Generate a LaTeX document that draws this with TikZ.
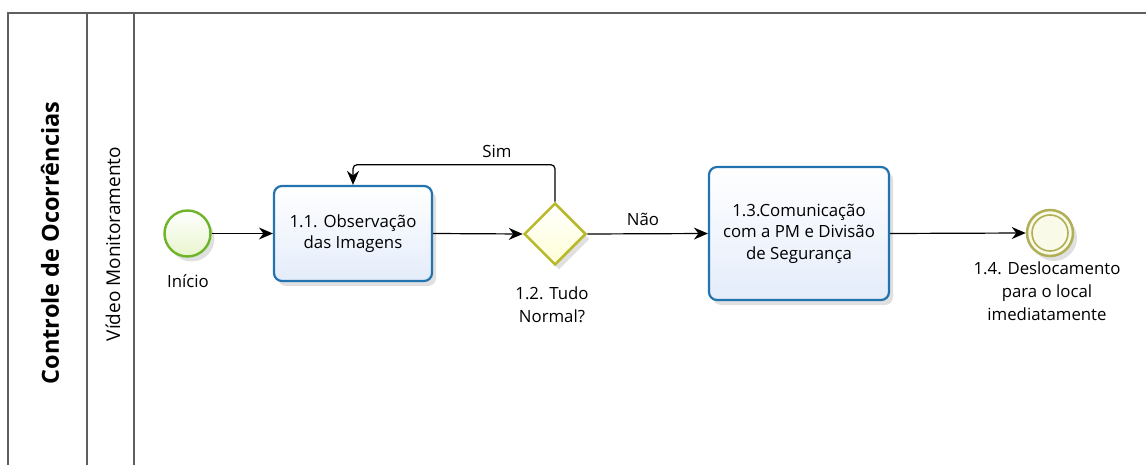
\documentclass[tikz,border=0pt]{standalone}
\usepackage{fontspec}
\setmainfont{Open Sans}
\usetikzlibrary{shapes.geometric,arrows.meta,shadows}
\definecolor{poolline}{RGB}{95,95,95}
\definecolor{startline}{RGB}{110,180,40}
\definecolor{startfill}{RGB}{232,245,205}
\definecolor{taskline}{RGB}{35,115,175}
\definecolor{taskfill}{RGB}{228,236,250}
\definecolor{gateline}{RGB}{185,185,45}
\definecolor{gatefill}{RGB}{255,255,215}
\definecolor{endline}{RGB}{175,175,85}
\definecolor{endfill}{RGB}{250,250,232}
\tikzset{
  poolrule/.style={draw=poolline,line width=1.5pt},
  softshadow/.style={drop shadow={shadow xshift=4pt,shadow yshift=-5pt,opacity=0.12,fill=black}},
  startev/.style={circle,draw=startline,line width=2.4pt,minimum size=46pt,inner sep=0pt,
    top color=white,bottom color=startfill,softshadow},
  taskbox/.style={rectangle,rounded corners=8pt,draw=taskline,line width=2.2pt,
    minimum width=158pt,minimum height=95pt,inner sep=2pt,align=center,
    top color=white,bottom color=taskfill,softshadow,
    font=\fontsize{16.8}{21.5}\selectfont},
  gatebox/.style={diamond,draw=gateline,line width=2.5pt,minimum width=62pt,minimum height=62pt,
    inner sep=0pt,top color=white,bottom color=gatefill,softshadow},
  endev/.style={circle,draw=endline,line width=2.5pt,minimum size=46pt,inner sep=0pt,
    fill=endfill,softshadow},
  endinner/.style={circle,draw=endline,line width=1.6pt,minimum size=36pt,inner sep=0pt},
  lbl/.style={align=center,font=\fontsize{16.8}{23}\selectfont},
  flow/.style={draw=black,line width=1.2pt,-{Stealth[length=14pt,width=12pt]}},
}
\begin{document}
\begin{tikzpicture}[x=1pt,y=-1pt]
\useasboundingbox (0,0) rectangle (1146,465);
% pool and lane
\draw[poolrule] (8,465) -- (8,13) -- (1146,13);
\draw[poolrule] (87,13) -- (87,465);
\draw[poolrule] (134,13) -- (134,465);
\node[rotate=90,font=\fontsize{23.5}{26}\selectfont\bfseries] (pool) at (50,243) {Controle de Ocorrências};
\node[rotate=90,font=\fontsize{19}{22}\selectfont] (lane) at (113,244) {Vídeo Monitoramento};
% elements
\node[startev] (start) at (187.5,233.5) {};
\node[lbl,anchor=north] (startlbl) at (188,271) {Início};
\node[taskbox] (t1) at (353,233.5) {1.1. Observação\\das Imagens};
\node[gatebox] (g) at (555,234) {};
\node[lbl,anchor=north] (glbl) at (552,283) {1.2. Tudo\\Normal?};
\node[taskbox,minimum width=180pt,minimum height=133pt] (t3) at (799,233.5) {1.3.Comunicação\\com a PM e Divisão\\de Segurança};
\node[endev] (e) at (1050,233) {};
\node[endinner] (ei) at (1050,233) {};
\node[lbl,anchor=north] (elbl) at (1047,258) {1.4. Deslocamento\\para o local\\imediatamente};
% flows
\draw[flow] (start.east) -- (t1.west);
\draw[flow] (t1.east) -- (g.west);
\draw[flow,rounded corners=4pt] (g.north) -- ++(0,-37) -| (t1.north);
\node[lbl] (sim) at (497,151) {Sim};
\draw[flow] (g.east) -- (t3.west);
\node[lbl] (nao) at (643,219) {Não};
\draw[flow] (t3.east) -- (e.west);
\end{tikzpicture}
\end{document}
